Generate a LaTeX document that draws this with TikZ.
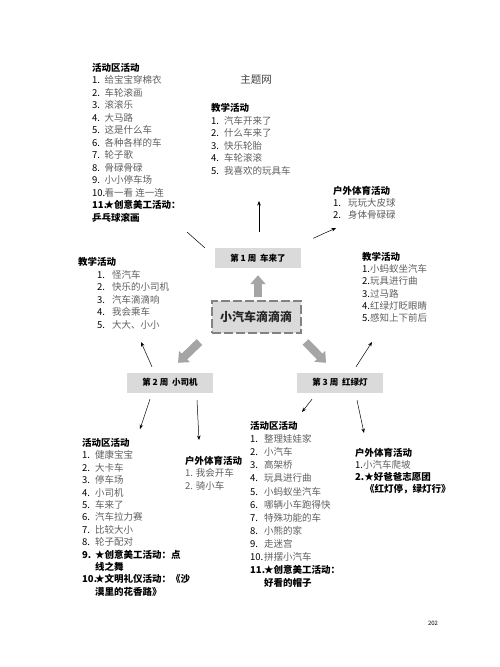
\documentclass[tikz,border=0pt]{standalone}
\usepackage{fontspec}
\setmainfont{Noto Sans CJK SC}
\usepackage{array}
\usetikzlibrary{arrows.meta,positioning}
\definecolor{itemgray}{RGB}{95,95,95}
\definecolor{boxgray}{RGB}{218,218,218}
\definecolor{blockgray}{RGB}{165,165,165}
\definecolor{edgegray}{RGB}{130,130,130}
\newcolumntype{N}[1]{@{}p{#1}@{}>{\color{itemgray}}l@{}}
\newcommand{\lsthead}[1]{\multicolumn{2}{@{}l@{}}{\bfseries #1}}
\newcommand{\stress}[1]{{\color{black}\bfseries #1}}
\newcommand{\twodig}[1]{\makebox[16pt][l]{#1}}

\begin{document}
\begin{tikzpicture}[x=1pt, y=-1pt,
  lst/.style={anchor=base west, inner sep=0pt, font=\fontsize{9.5}{12.5}\selectfont},
  week/.style={fill=boxgray, minimum width=86pt, minimum height=20pt, inner sep=0pt, font=\bfseries\fontsize{8.5}{10}\selectfont},
  link/.style={-{Stealth[length=4.5pt,width=3.5pt]}, line width=0.5pt},
  blockarr/.style={-{Triangle[length=9pt,width=15pt]}, line width=8pt, draw=blockgray}]
\useasboundingbox (0,0) rectangle (500,667);
% Title
\node[font=\fontsize{10.5}{12}\selectfont, text=black!75] (title) at (256,80) {主题网};
% Week 1 lists
\node[lst] (act1) at (92,71) {\begin{tabular}[t]{N{12.5pt}}
\lsthead{活动区活动}\\
1. & 给宝宝穿棉衣\\
2. & 车轮滚画\\
3. & 滚滚乐\\
4. & 大马路\\
5. & 这是什么车\\
6. & 各种各样的车\\
7. & 轮子歌\\
8. & 骨碌骨碌\\
9. & 小小停车场\\
\twodig{10.} & 看一看\ 连一连\\
\twodig{\textbf{11.}} & \stress{★创意美工活动：}\\
\lsthead{乒乓球滚画}
\end{tabular}};
\node[lst, font=\fontsize{9.5}{12.6}\selectfont] (teach1) at (211,111.5) {\begin{tabular}[t]{N{13pt}}
\lsthead{教学活动}\\
1. & 汽车开来了\\
2. & 什么车来了\\
3. & 快乐轮胎\\
4. & 车轮滚滚\\
5. & 我喜欢的玩具车
\end{tabular}};
\node[lst, font=\fontsize{9.5}{12.2}\selectfont] (out1) at (333,194.5) {\begin{tabular}[t]{N{15pt}}
\lsthead{户外体育活动}\\
1. & 玩玩大皮球\\
2. & 身体骨碌碌
\end{tabular}};
% Week 2 lists
\node[lst] (teach2) at (78,265.5) {\begin{tabular}[t]{@{\hspace{19pt}}p{15pt}@{}>{\color{itemgray}}l@{}}
\lsthead{教学活动}\\
1. & 怪汽车\\
2. & 快乐的小司机\\
3. & 汽车滴滴响\\
4. & 我会乘车\\
5. & 大大、小小
\end{tabular}};
\node[lst, font=\fontsize{9.5}{12.4}\selectfont] (act2) at (82,446.5) {\begin{tabular}[t]{N{13pt}}
\lsthead{活动区活动}\\
1. & 健康宝宝\\
2. & 大卡车\\
3. & 停车场\\
4. & 小司机\\
5. & 车来了\\
6. & 汽车拉力赛\\
7. & 比较大小\\
8. & 轮子配对\\
\textbf{9.} & \stress{★创意美工活动：点}\\
 & \stress{线之舞}\\
\twodig{\textbf{10.}} & \stress{★文明礼仪活动：《沙}\\
 & \stress{漠里的花香路》}
\end{tabular}};
\node[lst, font=\fontsize{9.5}{12.4}\selectfont] (out2) at (185,464.5) {\begin{tabular}[t]{@{}l@{}}
\textbf{户外体育活动}\\
{\color{itemgray}1. 我会开车}\\
{\color{itemgray}2. 骑小车}
\end{tabular}};
% Week 3 lists
\node[lst, font=\fontsize{9.5}{12.2}\selectfont] (teach3) at (362,260.5) {\begin{tabular}[t]{@{}l@{}}
\textbf{教学活动}\\
1.{\color{itemgray}小蚂蚁坐汽车}\\
2.{\color{itemgray}玩具进行曲}\\
3.{\color{itemgray}过马路}\\
4.{\color{itemgray}红绿灯眨眼睛}\\
5.{\color{itemgray}感知上下前后}
\end{tabular}};
\node[lst, font=\fontsize{9.5}{13.1}\selectfont] (act3) at (250,429.5) {\begin{tabular}[t]{N{14pt}}
\lsthead{活动区活动}\\
1. & 整理娃娃家\\
2. & 小汽车\\
3. & 高架桥\\
4. & 玩具进行曲\\
5. & 小蚂蚁坐汽车\\
6. & 哪辆小车跑得快\\
7. & 特殊功能的车\\
8. & 小熊的家\\
9. & 走迷宫\\
\twodig{10.} & 拼摆小汽车\\
\twodig{\textbf{11.}} & \stress{★创意美工活动：}\\
 & \stress{好看的帽子}
\end{tabular}};
\node[lst, font=\fontsize{9.5}{12}\selectfont] (out3) at (355,456.5) {\begin{tabular}[t]{@{}l@{}}
\textbf{户外体育活动}\\
1.{\color{itemgray}小汽车爬坡}\\
\textbf{2.★好爸爸志愿团}\\
\hspace{10pt}\textbf{《红灯停，绿灯行》}
\end{tabular}};
% Centre and weeks
\node[fill=boxgray, draw=edgegray, line width=2pt, dash pattern=on 9pt off 3pt,
  minimum width=89pt, minimum height=32pt, font=\bfseries\fontsize{12}{14}\selectfont, text=black!85] (theme) at (256,317) {小汽车滴滴滴};
\node[week] (wk1) at (258,258) {第 1 周\ \ 车来了};
\node[week] (wk2) at (170,382.5) {第 2 周\ \ 小司机};
\node[week] (wk3) at (340,382.5) {第 3 周\ \ 红绿灯};
% Block arrows
\draw[blockarr] ([xshift=2pt,yshift=3pt]theme.north) -- ([yshift=-7pt]wk1.south);
\draw[blockarr] ([xshift=-11pt,yshift=-8pt]theme.south west) -- ([xshift=8pt,yshift=9.5pt]wk2.north);
\draw[blockarr] ([xshift=4pt,yshift=-8pt]theme.south east) -- ([xshift=-14pt,yshift=9.5pt]wk3.north);
% Tips
\coordinate (c1a) at (187,232);
\coordinate (c1b) at (259,201);
\coordinate (c1c) at (336,228);
\coordinate (c2a) at (141,342);
\coordinate (c2b) at (140,429);
\coordinate (c2c) at (199,440);
\coordinate (c3a) at (372,342);
\coordinate (c3b) at (302,412);
\coordinate (c3c) at (364,433);
% Thin arrows
\draw[line width=0.5pt] ([xshift=-10pt]wk1.north west) -- (c1a);
\draw[link] ([xshift=1pt,yshift=16pt]wk1.north) -- (c1b);
\draw[link] ([xshift=12pt,yshift=9.5pt]wk1.north east) -- (c1c);
\draw[link] ([xshift=-18pt,yshift=5.5pt]wk2.north) -- (c2a);
\draw[link] ([xshift=-20pt,yshift=-6.5pt]wk2.south) -- (c2b);
\draw[link] ([xshift=27pt,yshift=-7.5pt]wk2.south) -- (c2c);
\draw[link] ([xshift=16pt,yshift=5.5pt]wk3.north) -- (c3a);
\draw[link] ([xshift=-28pt,yshift=-6.5pt]wk3.south) -- (c3b);
\draw[link] ([xshift=17pt,yshift=-7.5pt]wk3.south) -- (c3c);
% Page number
\node[font=\fontsize{6}{7}\selectfont] (pg) at (433,623) {202};
\end{tikzpicture}
\end{document}
